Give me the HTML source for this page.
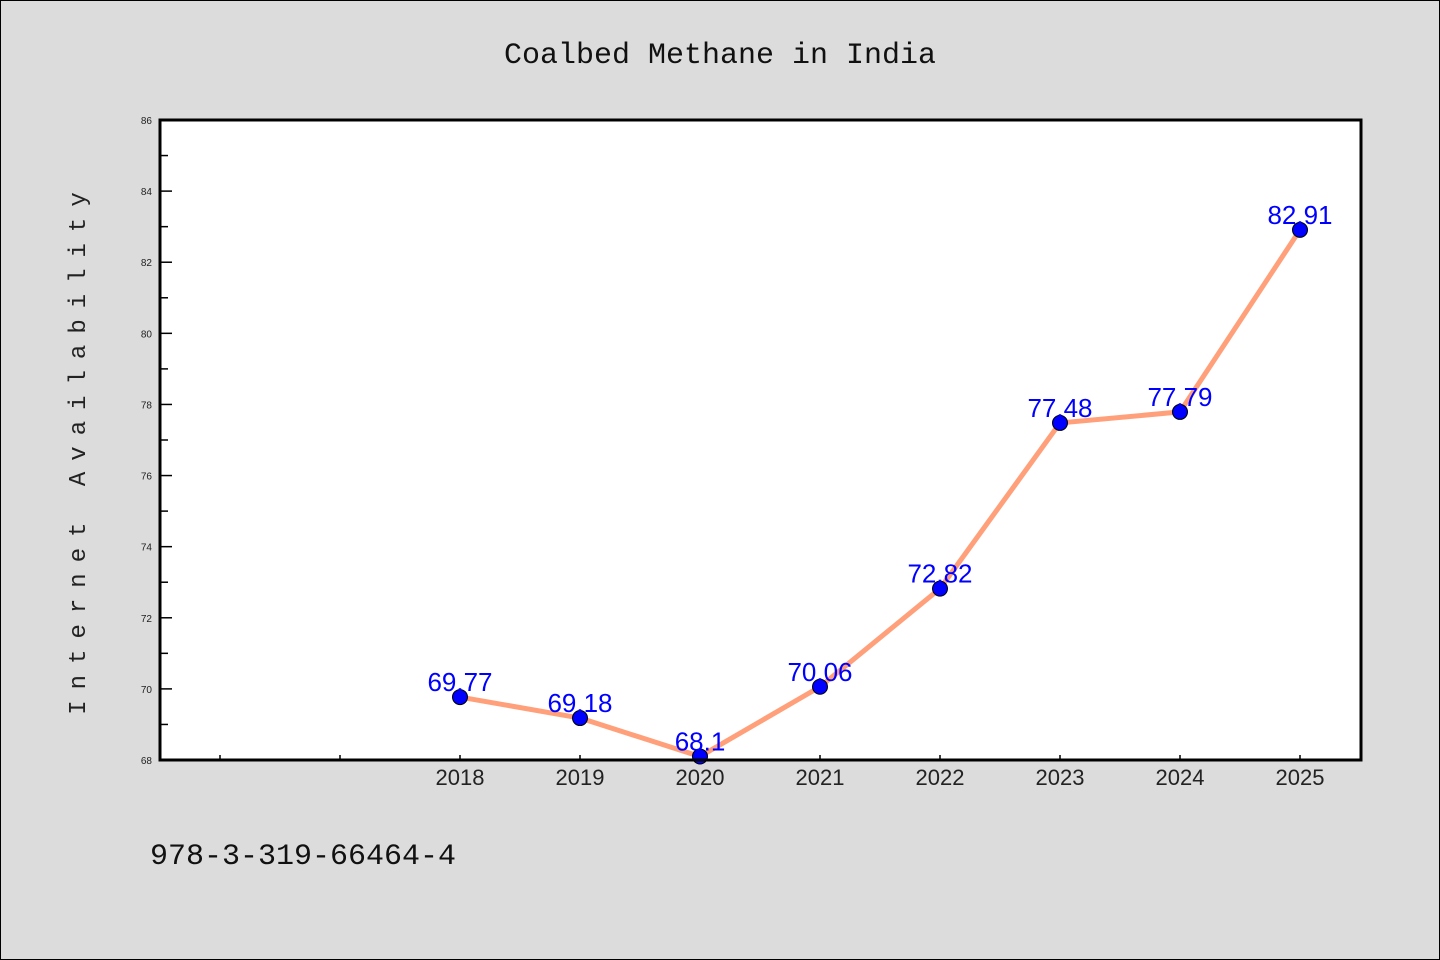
<!DOCTYPE html>
<html><head><meta charset="utf-8"><style>
body{margin:0;background:#dcdcdc;}
svg{display:block;font-family:"Liberation Sans",sans-serif;}
</style></head><body>
<svg width="1440" height="960" xmlns="http://www.w3.org/2000/svg">
<rect x="0.5" y="0.5" width="1439" height="959" fill="#dcdcdc" stroke="#000"/>
<text x="720" y="63" text-anchor="middle" font-size="30" font-family="Liberation Mono, monospace" fill="#111">Coalbed Methane in India</text>
<rect x="160" y="120" width="1201" height="640" fill="#fff"/>
<g id="axes"></g>
<g id="marks"></g>
<rect x="160" y="120" width="1201" height="640" fill="none" stroke="#000" stroke-width="3"/>
<text transform="translate(85,448) rotate(-90)" text-anchor="middle" font-size="24" font-family="Liberation Mono, monospace" letter-spacing="11" fill="#222">Internet Availability</text>
<text x="150" y="864" font-size="30" font-family="Liberation Mono, monospace" fill="#111">978-3-319-66464-4</text>
</svg>
<script>
const categories=["2018","2019","2020","2021","2022","2023","2024","2025"];
const values=[69.77,69.18,68.1,70.06,72.82,77.48,77.79,82.91];
const valueLabels=["69.77","69.18","68.1","70.06","72.82","77.48","77.79","82.91"];
const yTicks=[68,70,72,74,76,78,80,82,84,86];
const Y_MIN=68,Y_MAX=86,P_TOP=120,P_BOT=760,P_LEFT=160;
const NS="http://www.w3.org/2000/svg";
function yPos(v){return P_BOT-(v-Y_MIN)/(Y_MAX-Y_MIN)*(P_BOT-P_TOP);}
function xPos(i){return 460+120*i;}
function mk(tag,attrs,parent){const e=document.createElementNS(NS,tag);for(const k in attrs)e.setAttribute(k,attrs[k]);parent.appendChild(e);return e;}
const ax=document.getElementById('axes'),mg=document.getElementById('marks');
yTicks.forEach((t,i)=>{
 const l=mk('line',{x1:P_LEFT,x2:P_LEFT+12,y1:yPos(t),y2:yPos(t),stroke:'#000','stroke-width':1.5},ax);
 
 
 const tx=mk('text',{x:152,y:yPos(t)+4,'text-anchor':'end','font-size':10,fill:'#222'},ax);
 tx.textContent=t;
 
 
 if(i<yTicks.length-1){
  const m=mk('line',{x1:P_LEFT,x2:P_LEFT+8,y1:yPos(t+1),y2:yPos(t+1),stroke:'#000','stroke-width':1.5},ax);
  
  
 }
});
for(let i=-2;i<categories.length;i++){
 const l=mk('line',{x1:xPos(i),x2:xPos(i),y1:P_BOT,y2:P_BOT-5,stroke:'#000','stroke-width':1.5},ax);
 
 
}
categories.forEach((c,i)=>{
 const tx=mk('text',{x:xPos(i),y:785,'text-anchor':'middle','font-size':22,fill:'#222'},ax);
 tx.textContent=c;
 
 
});
const p=mk('polyline',{points:values.map((v,i)=>xPos(i)+','+yPos(v)).join(' '),fill:'none',stroke:'#ffa07a','stroke-width':5,'stroke-linejoin':'round'},mg);


values.forEach((v,i)=>{
 const c=mk('circle',{cx:xPos(i),cy:yPos(v),r:7.5,fill:'#0000ff',stroke:'#000','stroke-width':1},mg);
 
 
 const t=mk('text',{x:xPos(i),y:yPos(v)-6,'text-anchor':'middle','font-size':26,fill:'#0000ff'},mg);
 t.textContent=valueLabels[i];
 
 
});
</script>
</body></html>
